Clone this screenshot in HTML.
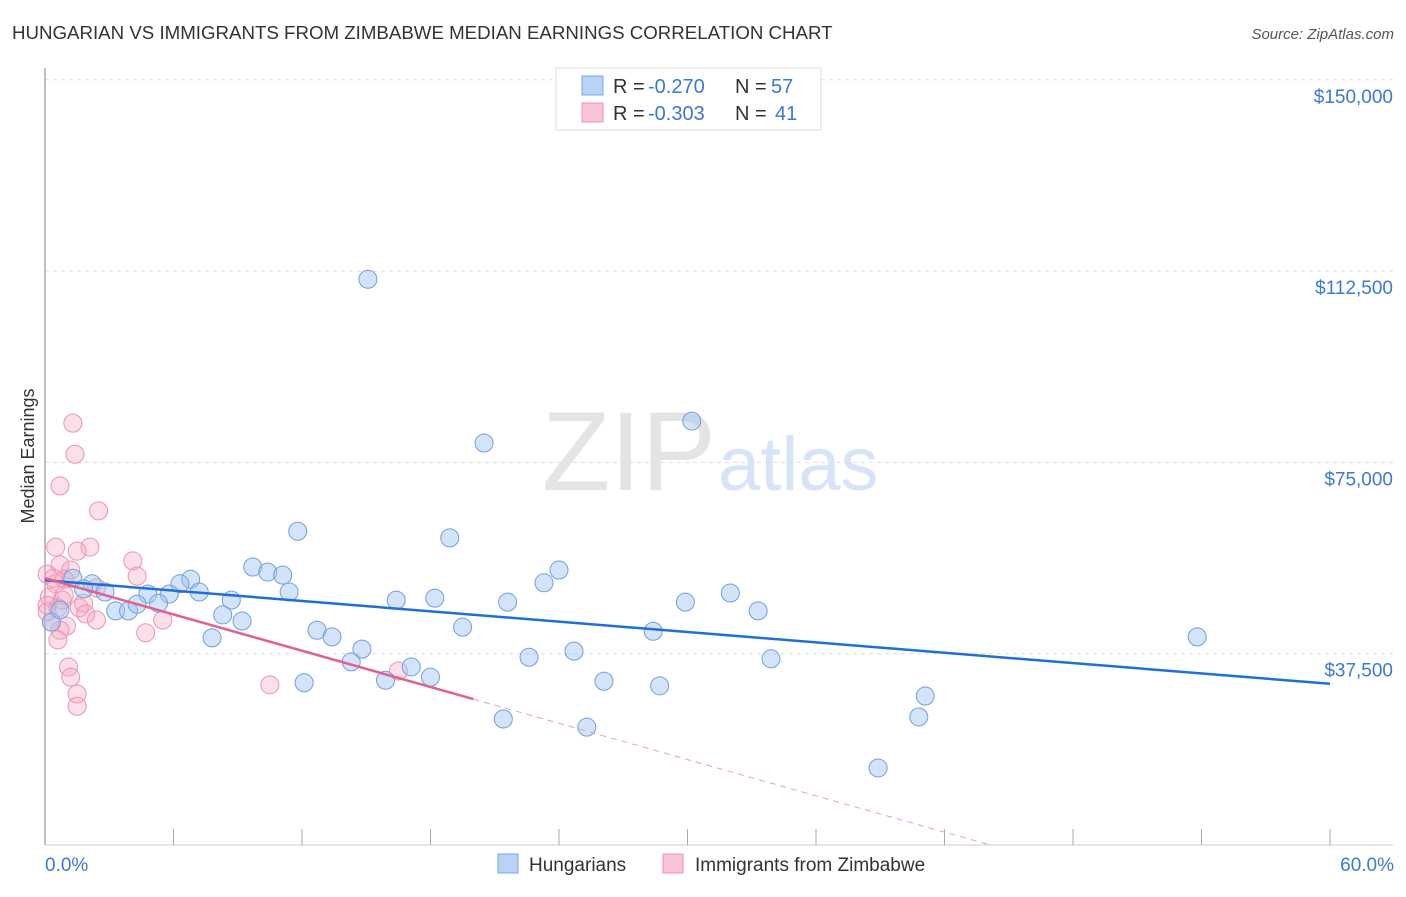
<!DOCTYPE html>
<html><head><meta charset="utf-8"><style>
body{margin:0;background:#fff;font-family:"Liberation Sans",sans-serif;}
svg text{font-family:"Liberation Sans",sans-serif;}
</style></head><body>
<svg width="1406" height="892" viewBox="0 0 1406 892" id="chart">
<text x="12" y="39" font-size="18.7" fill="#333">HUNGARIAN VS IMMIGRANTS FROM ZIMBABWE MEDIAN EARNINGS CORRELATION CHART</text>
<text x="1394" y="39" font-size="15" fill="#555" text-anchor="end" font-style="italic">Source: ZipAtlas.com</text>
<text x="716" y="490" font-size="112" fill="#e4e4e4" text-anchor="end" font-family="Liberation Serif">ZIP</text>
<text x="718" y="490" font-size="76" fill="#d6e4f6">atlas</text>
<text transform="translate(34,456) rotate(-90)" font-size="18" fill="#333" text-anchor="middle">Median Earnings</text>
<g id="grid"></g><g id="axes"></g><g id="pts"></g><g id="lines"></g>
<g>
<rect x="556" y="68" width="265" height="62" fill="#fff" stroke="#ddd"/>
<rect x="582" y="76" width="21" height="19" fill="#b8d3f5" stroke="#7aa7e3"/>
<rect x="582" y="103" width="21" height="19" fill="#f9c5d6" stroke="#ec92b2"/>
<text x="613" y="93" font-size="20" fill="#333">R =</text>
<text x="648" y="93" font-size="20" fill="#3b78d8">-0.270</text>
<text x="735" y="93" font-size="20" fill="#333">N =</text>
<text x="771" y="93" font-size="20" fill="#3b78d8">57</text>
<text x="613" y="120" font-size="20" fill="#333">R =</text>
<text x="648" y="120" font-size="20" fill="#3b78d8">-0.303</text>
<text x="735" y="120" font-size="20" fill="#333">N =</text>
<text x="775" y="120" font-size="20" fill="#3b78d8">41</text>
</g>
<g>
<rect x="498" y="854" width="20" height="19" fill="#b8d3f5" stroke="#7aa7e3"/>
<text x="529" y="871" font-size="19" fill="#333">Hungarians</text>
<rect x="663" y="854" width="20" height="19" fill="#f9c5d6" stroke="#ec92b2"/>
<text x="695" y="871" font-size="19" fill="#333">Immigrants from Zimbabwe</text>
</g>
<text x="45" y="871" font-size="19" fill="#3b78d8">0.0%</text>
<text x="1394" y="871" font-size="19" fill="#3b78d8" text-anchor="end">60.0%</text>
</svg>
<script>
const yTicks=[37500,75000,112500,150000];
const yTickLabels=["$37,500","$75,000","$112,500","$150,000"];
const xTicks=[0,6,12,18,24,30,36,42,48,54,60];
const blueX=[15.08,30.2,20.5,18.9,11.8,24.0,23.3,9.7,10.4,11.1,11.4,6.8,6.3,7.2,5.8,4.8,5.3,8.7,16.4,18.2,21.6,29.9,32.0,33.3,2.2,2.8,1.3,1.8,3.3,3.9,4.3,8.3,9.2,7.8,12.7,13.4,19.5,28.4,53.8,14.8,14.3,22.6,24.7,33.9,17.1,15.9,18.0,12.1,26.1,28.7,41.1,40.8,21.4,25.3,38.9,0.3,0.7];
const blueY=[110900,83100,78800,60200,61500,53900,51400,54500,53500,52900,49600,52100,51200,49600,49200,49200,47400,48000,48000,48400,47600,47600,49400,45900,51200,49600,52300,50200,45900,45900,47200,45100,43900,40600,42100,40800,42700,41900,40800,38400,35900,36800,38000,36500,34900,32300,32900,31800,32100,31200,29200,25100,24700,23100,15100,43700,46100];
const pinkX=[1.3,1.4,0.7,2.5,0.5,2.1,1.5,4.1,4.3,0.7,1.2,0.1,0.9,0.5,2.4,0.2,0.8,1.8,0.1,0.6,1.6,1.9,2.4,5.5,0.3,1.0,0.7,4.7,1.1,1.2,1.5,1.5,10.5,16.5,0.4,0.9,0.1,0.6];
const pinkY=[82700,76600,70400,65500,58400,58400,57600,55700,52700,54900,53900,53100,52100,51200,50400,48600,48000,47400,47000,46500,46500,45300,44100,44100,43700,42900,42100,41600,34900,32900,29600,27200,31400,34100,52300,49000,45700,40200];
const blueTrend=[51900,31600];
const pinkTrend=[52300,28600];
const X0=45,X1=1330,Y0=845,YPX=191.3/37500;
const sx=v=>X0+(v/60)*(X1-X0), sy=v=>Y0-v*YPX;
const NS="http://www.w3.org/2000/svg";
function mk(tag,attrs,parent){const e=document.createElementNS(NS,tag);for(const k in attrs)e.setAttribute(k,attrs[k]);document.getElementById(parent).appendChild(e);return e;}
yTicks.forEach((t,i)=>{
 const l=mk('line',{x1:X0,x2:1393,y1:sy(t),y2:sy(t),stroke:'#ddd','stroke-dasharray':'4,4'},'grid');
 
 
 const tx=mk('text',{x:1393,y:sy(t)+23,'font-size':19,fill:'#3b78d8','text-anchor':'end'},'grid');
 tx.textContent=yTickLabels[i];
 
 
});
const ax=mk('line',{x1:X0,x2:X0,y1:68,y2:Y0,stroke:'#aaa','stroke-width':1.5},'axes');


const bx=mk('line',{x1:X0,x2:1393,y1:Y0,y2:Y0,stroke:'#ccc'},'axes');


xTicks.forEach(t=>{
 const l=mk('line',{x1:sx(t),x2:sx(t),y1:Y0-16,y2:Y0,stroke:'#aaa'},'axes');
 
 
});
pinkX.forEach((x,i)=>{
 const c=mk('circle',{cx:sx(x),cy:sy(pinkY[i]),r:9,fill:'rgba(245,165,192,0.35)',stroke:'#ec92b2','stroke-width':1},'pts');
 
 
});
blueX.forEach((x,i)=>{
 const c=mk('circle',{cx:sx(x),cy:sy(blueY[i]),r:9,fill:'rgba(160,196,240,0.45)',stroke:'#6fa0e0','stroke-width':1},'pts');
 
 
});
const bl=mk('line',{x1:sx(0),y1:sy(blueTrend[0]),x2:sx(60),y2:sy(blueTrend[1]),stroke:'#1f6fd6','stroke-width':2.5},'lines');


const pSlope=(pinkTrend[1]-pinkTrend[0])/20, xZero=-pinkTrend[0]/pSlope;
const pl=mk('line',{x1:sx(0),y1:sy(pinkTrend[0]),x2:sx(20),y2:sy(pinkTrend[1]),stroke:'#e0608e','stroke-width':2.5},'lines');


const pd=mk('line',{x1:sx(20),y1:sy(pinkTrend[1]),x2:sx(xZero),y2:sy(0),stroke:'#e8a0b8','stroke-width':1,'stroke-dasharray':'6,5'},'lines');


</script>
</body></html>
